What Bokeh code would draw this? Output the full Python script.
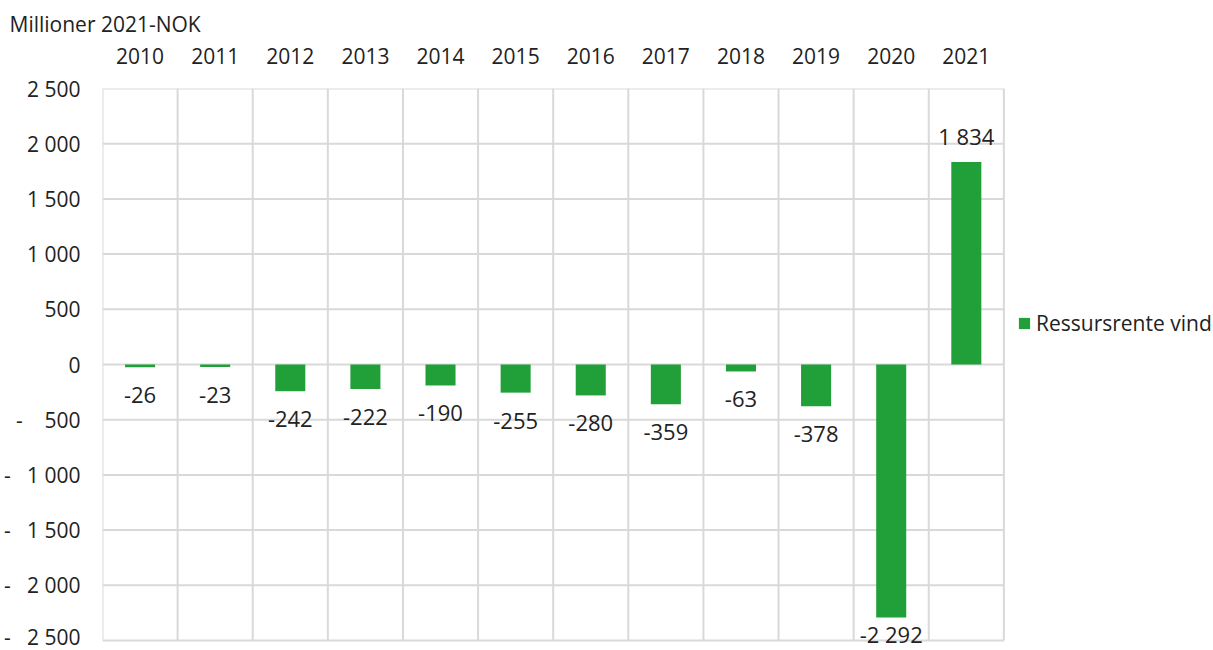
from bokeh.plotting import figure
from bokeh.models import (ColumnDataSource, LinearAxis, FixedTicker, Range1d,
                          LabelSet, Legend, LegendItem, Title)
from bokeh.core.properties import value
from bokeh.embed import file_html
from bokeh.resources import INLINE

years = ["2010", "2011", "2012", "2013", "2014", "2015", "2016", "2017", "2018", "2019", "2020", "2021"]
values = [-26, -23, -242, -222, -190, -255, -280, -359, -63, -378, -2292, 1834]
y_ticks = [-2500, -2000, -1500, -1000, -500, 0, 500, 1000, 1500, 2000, 2500]
series_name = "Ressursrente vind"
y_unit = "Millioner 2021-NOK"

FONT = "Open Sans"
TXT = "#222222"
GREEN = "#21a039"
GRID = "#d9d9d9"


def fmt_num(v):
    return f"{v:,}".replace(",", " ")


def fmt_tick(v):
    if v > 0:
        return fmt_num(v)
    if v == 0:
        return "0"
    pad = 3 if abs(v) >= 1000 else 4
    return "-" + "\u00a0" * pad + fmt_num(abs(v))


def label_offset(v):
    if v >= 0:
        return 26
    # labels near the bottom edge are pulled closer to the bar so they stay inside
    return -16 if v < 0.8 * y_ticks[0] else -28


n = len(years)
xs = [i + 0.5 for i in range(n)]
src = ColumnDataSource(dict(
    x=xs,
    top=values,
    label=[fmt_num(v) for v in values],
    off=[label_offset(v) for v in values],
))

# plot area: categories fill 903 px; the frame continues to the right to host the legend,
# and a little below the lowest gridline so the lowest value label is not clipped
W, H = 1213, 650
LEFT, TOP = 100, 88
CAT_W = 903 / n
x_hi = (W - LEFT) / CAT_W
y_lo = y_ticks[0] - 10 * (y_ticks[-1] - y_ticks[0]) / 552

p = figure(width=W, height=H, output_backend="svg", toolbar_location=None,
           x_range=Range1d(0, x_hi), y_range=Range1d(y_lo, y_ticks[-1]),
           x_axis_location=None, y_axis_location=None,
           min_border_left=LEFT, min_border_right=0, min_border_top=TOP, min_border_bottom=0)
p.outline_line_color = None
p.background_fill_color = "white"
p.border_fill_color = "white"
p.xgrid.visible = False
p.ygrid.visible = False

# horizontal gridlines (only across the categories)
p.segment(x0=[0] * len(y_ticks), x1=[n] * len(y_ticks), y0=y_ticks, y1=y_ticks,
          line_color=GRID, line_width=2)
# vertical category separators
bounds = list(range(n + 1))
p.segment(x0=bounds, x1=bounds, y0=[y_ticks[0]] * len(bounds), y1=[y_ticks[-1]] * len(bounds),
          line_color=GRID, line_width=2)

# left axis
yax = LinearAxis(ticker=FixedTicker(ticks=y_ticks),
                 major_label_overrides={t: fmt_tick(t) for t in y_ticks})
yax.axis_line_color = None
yax.major_tick_line_color = None
yax.minor_tick_line_color = None
yax.major_tick_out = 0
yax.major_label_standoff = 22
yax.major_label_text_font = FONT
yax.major_label_text_font_size = "21px"
yax.major_label_text_color = TXT
p.add_layout(yax, "left")

# top category axis
xax = LinearAxis(ticker=FixedTicker(ticks=xs),
                 major_label_overrides={x: y for x, y in zip(xs, years)})
xax.axis_line_color = None
xax.major_tick_line_color = None
xax.minor_tick_line_color = None
xax.major_tick_out = 0
xax.major_label_standoff = 25
xax.major_label_text_font = FONT
xax.major_label_text_font_size = "21px"
xax.major_label_text_color = TXT
p.add_layout(xax, "above")

# title (unit)
p.title = Title(text=y_unit, align="left", offset=-93, text_font=FONT,
                text_font_size="21px", text_font_style="normal", text_color=TXT,
                standoff=14)

bars = p.vbar(x="x", top="top", bottom=0, width=0.4, source=src,
              fill_color=GREEN, line_color=None)

labels = LabelSet(x="x", y="top", text="label", y_offset="off", source=src,
                  text_align="center", text_baseline="middle",
                  text_font=value(FONT), text_font_size=value("22px"), text_color=TXT)
p.add_layout(labels)

legend = Legend(items=[LegendItem(label=series_name, renderers=[bars])],
                location=(915, 313), padding=0, margin=0, spacing=0,
                glyph_width=14, glyph_height=14, label_standoff=5,
                border_line_color=None, background_fill_alpha=0,
                label_text_font=FONT, label_text_font_size="21px",
                label_text_color=TXT)
p.add_layout(legend)

open("out.html", "w").write(file_html(p, INLINE))
